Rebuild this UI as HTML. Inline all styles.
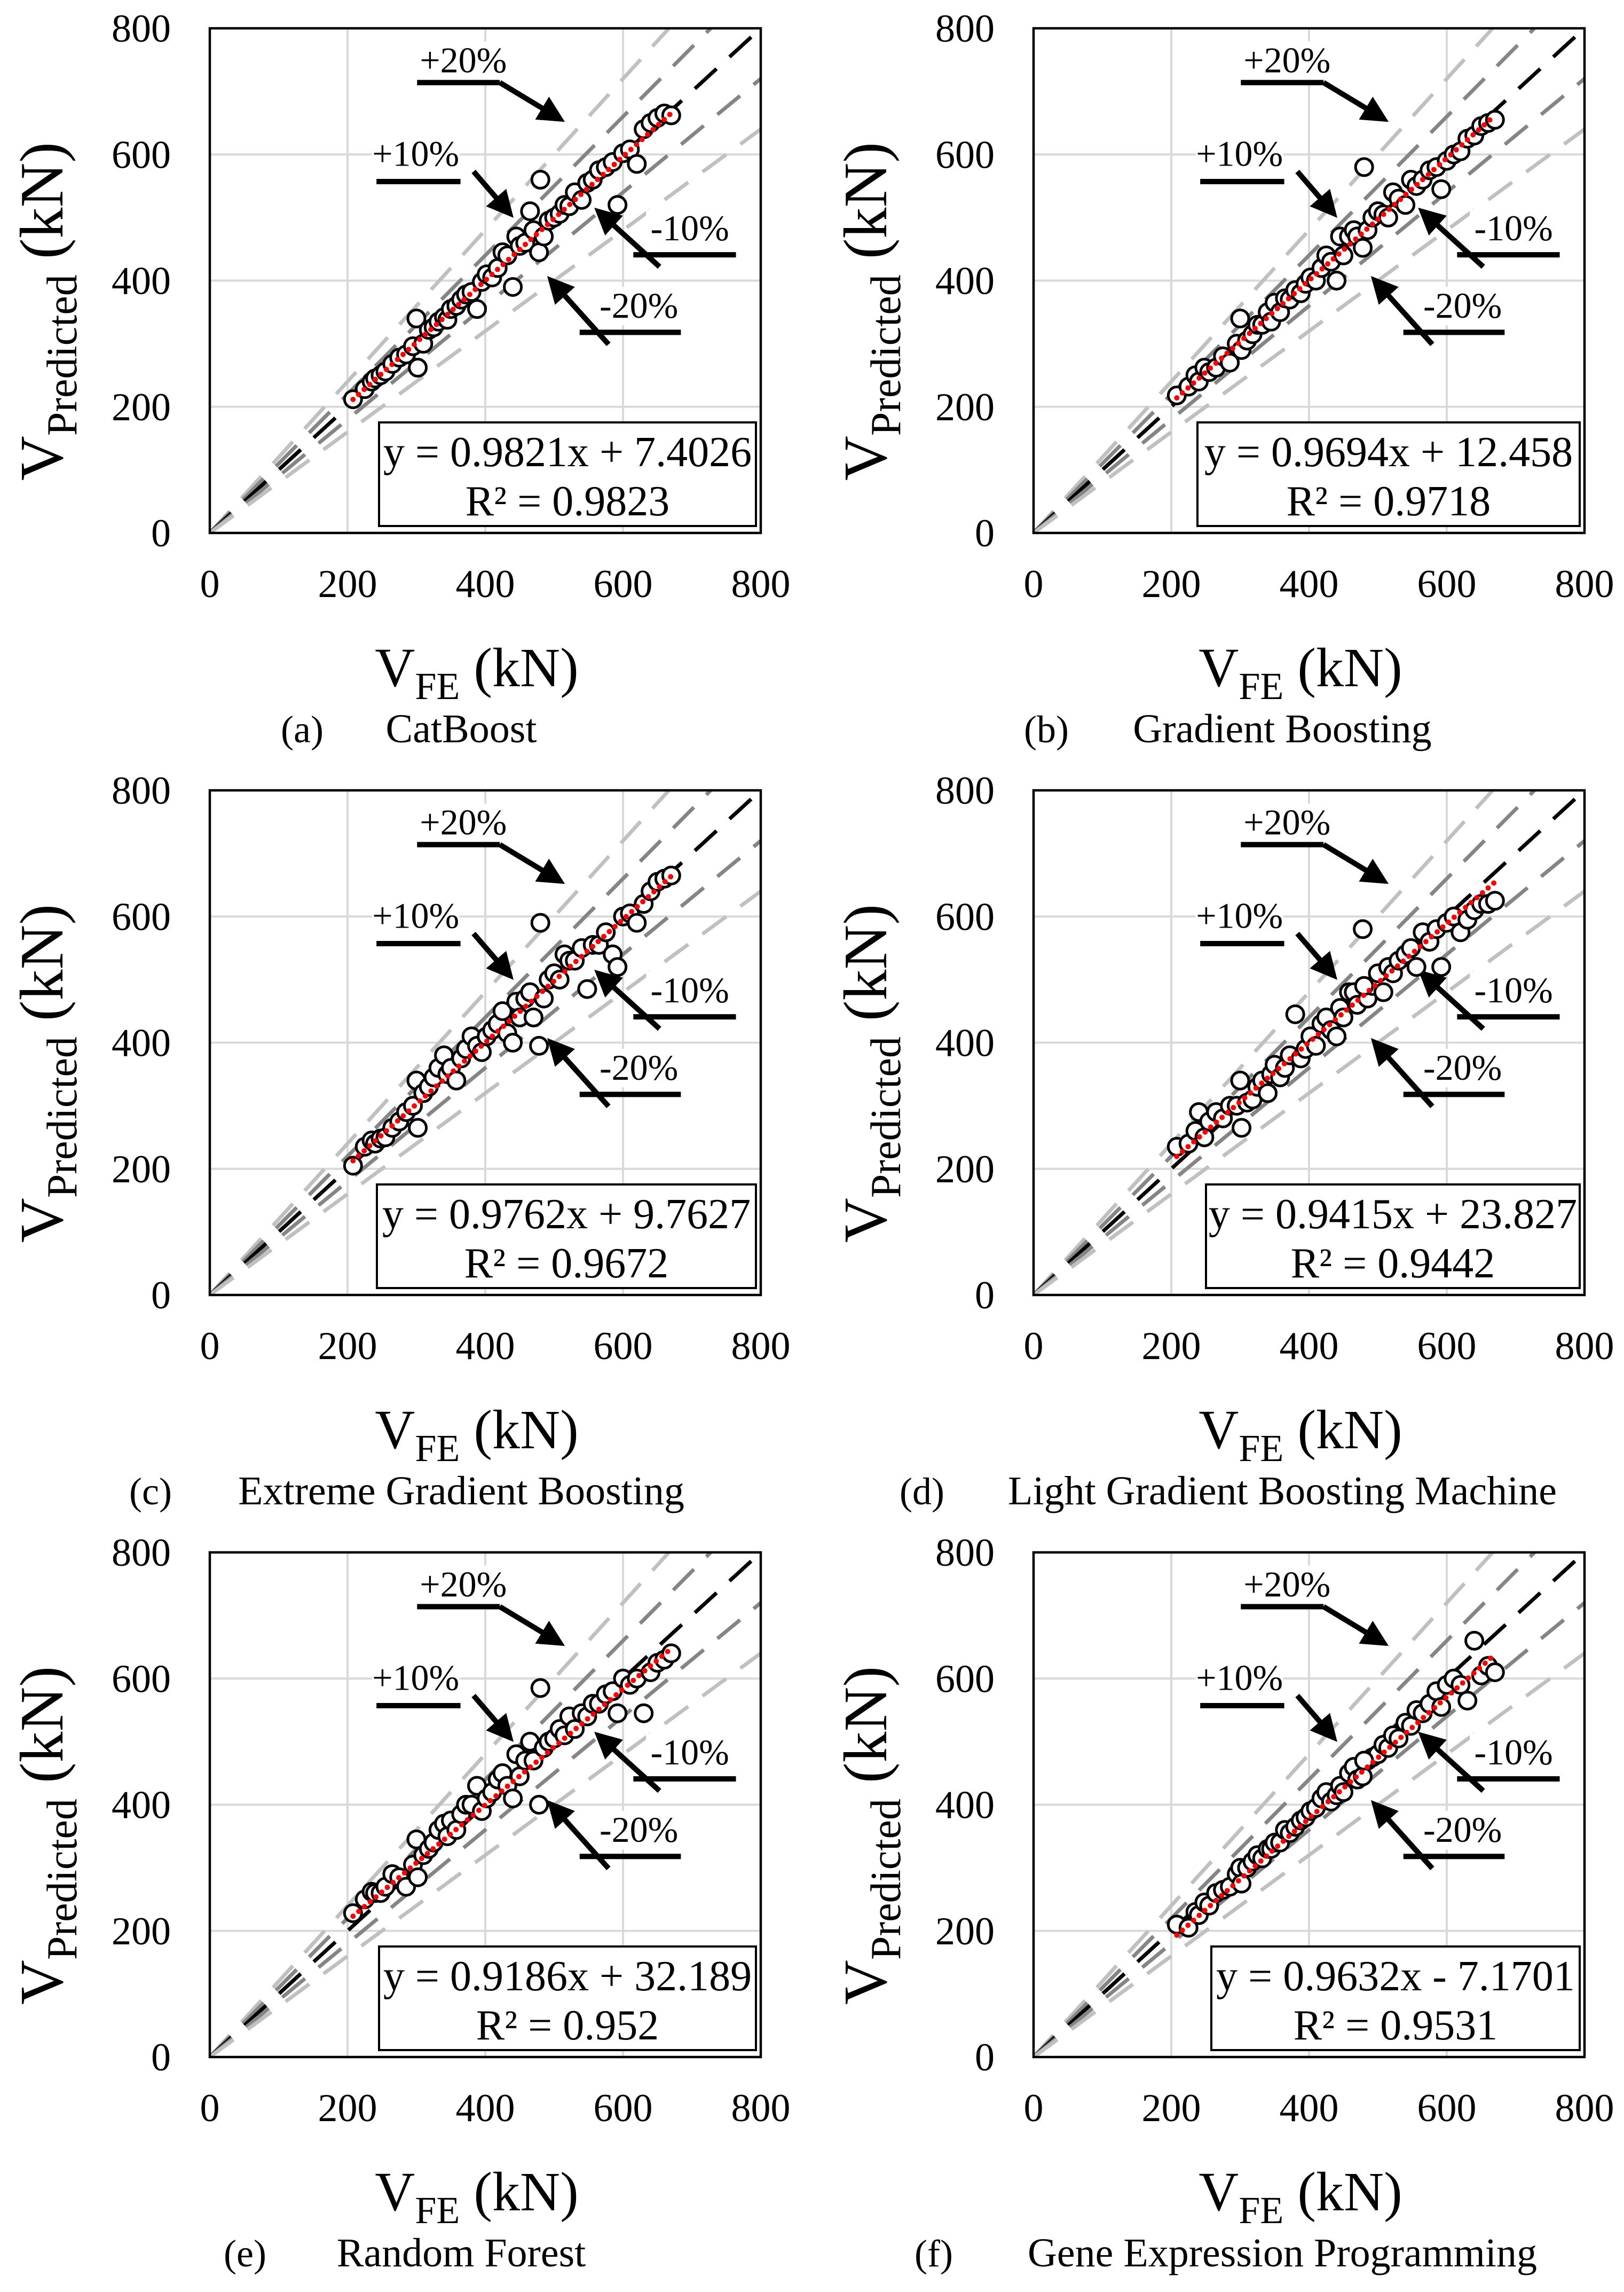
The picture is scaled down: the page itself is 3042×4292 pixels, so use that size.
<!DOCTYPE html>
<html><head><meta charset="utf-8"><style>
html,body{margin:0;padding:0;background:#fff}
svg{display:block;font-family:"Liberation Serif",serif}
</style></head><body>
<svg id="fig" xmlns="http://www.w3.org/2000/svg" width="3042" height="4292" viewBox="0 0 3042 4292">
<defs>
<marker id="ah" viewBox="0 0 10 10" refX="8" refY="5" markerWidth="5" markerHeight="5" orient="auto"><path d="M0,0 L10,5 L0,10 z" fill="#000"/></marker>
</defs>
<rect width="3042" height="4292" fill="#fff"/>
</svg>
<script>
const xFE = [208,225,235,240,248,255,265,275,285,295,
  300,302,310,318,325,332,340,345,350,358,
  365,372,380,388,395,402,410,418,425,432,
  440,445,450,458,465,470,478,485,492,500,
  508,515,522,530,540,548,556,565,575,585,
  592,600,610,620,630,640,650,660,670,480];
const yCatBoost = [212,228,240,245,250,256,268,278,283,296,
  340,262,300,322,326,335,342,338,355,360,
  370,378,382,355,398,410,405,420,445,440,
  390,470,455,460,510,480,445,470,495,500,
  506,520,518,540,528,555,560,575,580,588,
  520,602,608,585,640,650,658,665,662,560];
const yGB = [218,232,250,240,262,255,262,280,270,300,
  340,290,305,315,330,330,350,335,365,350,
  372,370,385,380,395,405,400,420,440,430,
  400,470,440,470,480,470,452,480,500,510,
  505,500,540,530,520,560,550,560,575,580,
  545,590,600,605,625,630,645,650,655,580];
const yXGB = [205,235,245,240,248,250,265,275,290,300,
  340,265,320,330,345,360,380,350,360,340,
  375,390,410,395,385,410,420,430,450,415,
  400,465,440,470,480,440,395,470,500,510,
  500,540,530,530,550,485,555,555,575,540,
  520,600,605,590,620,640,655,660,665,590];
const yLGBM = [235,240,260,290,250,275,290,280,300,300,
  340,265,305,310,330,340,320,350,365,345,
  360,380,445,375,390,410,395,430,440,420,
  410,455,440,480,480,460,580,470,490,510,
  480,520,510,530,540,550,520,575,560,580,
  520,590,600,575,595,610,620,620,625,490];
const yRF = [228,250,262,260,260,270,290,285,270,305,
  345,285,320,330,340,360,370,350,375,360,
  385,400,400,430,390,410,420,440,450,430,
  410,480,445,470,500,470,400,490,500,505,
  520,510,540,520,545,540,560,560,575,580,
  545,600,590,600,545,610,625,630,640,585];
const yGEP = [210,205,230,225,245,240,260,265,270,290,
  300,275,300,310,320,315,330,330,340,340,
  360,355,365,375,380,390,395,410,420,405,
  415,430,420,450,460,440,445,470,475,480,
  495,490,510,505,530,525,550,545,560,580,
  555,590,600,590,565,660,605,620,610,470];
const slopes = [0.9821,0.9694,0.9762,0.9415,0.9186,0.9632];
const intercepts = [7.4026,12.458,9.7627,23.827,32.189,-7.1701];
const eqLabels = ["y = 0.9821x + 7.4026","y = 0.9694x + 12.458","y = 0.9762x + 9.7627","y = 0.9415x + 23.827","y = 0.9186x + 32.189","y = 0.9632x - 7.1701"];
const r2Labels = ["R² = 0.9823","R² = 0.9718","R² = 0.9672","R² = 0.9442","R² = 0.952","R² = 0.9531"];
const panelLetters = ["(a)","(b)","(c)","(d)","(e)","(f)"];
const panelTitles = ["CatBoost","Gradient Boosting","Extreme Gradient Boosting","Light Gradient Boosting Machine","Random Forest","Gene Expression Programming"];
const tickValues = [0,200,400,600,800];
const tickLabels = ["0","200","400","600","800"];
const refFactors = [1.2,1.1,1.0,0.9,0.8];

const ySeries = [yCatBoost,yGB,yXGB,yLGBM,yRF,yGEP];
const NS = "http://www.w3.org/2000/svg";
const svg = document.getElementById('fig');
function mk(tag, attrs, parent){const e=document.createElementNS(NS,tag);for(const k in attrs)e.setAttribute(k,attrs[k]);(parent||svg).appendChild(e);return e;}

const colX = [393,1936], rowY = [53,1480,2907], W = 1032, H = 945;
const boxW = [706,716,710,700,706,690];
const letterX = [566,1960,282,1727,459,1749];
const titleX = [864,2402,864,2402,864,2402];
const refColors = {"1.2":"#c0c0c0","1.1":"#858585","1":"#000000","0.9":"#858585","0.8":"#c0c0c0"};

for(let p=0;p<6;p++){
  const x0 = colX[p%2], y0 = rowY[Math.floor(p/2)];
  const sx = v => x0 + v/800*W;
  const sy = v => y0 + H - v/800*H;
  const g = mk('g',{});
  
  
  const cp = mk('clipPath',{id:'clip'+p},svg.querySelector('defs'));
  mk('rect',{x:x0,y:y0,width:W,height:H},cp);
  for(let i=1;i<4;i++){
    const v=tickValues[i];
    const gl=mk('line',{x1:sx(v),x2:sx(v),y1:y0,y2:y0+H,stroke:'#d9d9d9','stroke-width':4},g);
    
    
    const gh=mk('line',{x1:x0,x2:x0+W,y1:sy(v),y2:sy(v),stroke:'#d9d9d9','stroke-width':4},g);
    
    
  }
  const rg = mk('g',{'clip-path':'url(#clip'+p+')'},g);
  refFactors.forEach(k=>{
    const l=mk('line',{x1:sx(0),y1:sy(0),x2:sx(800),y2:sy(800*k),stroke:refColors[String(k)],'stroke-width':7,'stroke-dasharray':'55 33'},rg);
    
    
  });
  const ann = [
    {t:"+20%",tx:368,ty:730,l:[301,421,714],a:[421,714,509,656]},
    {t:"+10%",tx:299,ty:582,l:[242,364,557],a:[383,573,436,506]},
    {t:"-10%",tx:697,ty:464,l:[615,764,441],a:[653,422,564,510]},
    {t:"-20%",tx:623,ty:341,l:[537,684,318],a:[579,299,495,401]}
  ];
  ann.forEach(a=>{
    const bg=mk('rect',{x:sx(a.tx)-82,y:sy(a.ty)-58,width:164,height:72,fill:'#fff'},g);
    
    
    const t=mk('text',{x:sx(a.tx),y:sy(a.ty),'font-size':68,'text-anchor':'middle',fill:'#000'},g);
    t.textContent=a.t;
    
    
    const hl=mk('line',{x1:sx(a.l[0]),x2:sx(a.l[1]),y1:sy(a.l[2]),y2:sy(a.l[2]),stroke:'#000','stroke-width':10},g);
    
    
    const ar=mk('line',{x1:sx(a.a[0]),y1:sy(a.a[1]),x2:sx(a.a[2]),y2:sy(a.a[3]),stroke:'#000','stroke-width':10,'marker-end':'url(#ah)'},g);
    
    
  });
  const ys = ySeries[p];
  for(let i=0;i<xFE.length;i++){
    const c=mk('circle',{cx:sx(xFE[i]),cy:sy(ys[i]),r:16,fill:'#fff',stroke:'#000','stroke-width':5},g);
    
    
  }
  const xmin=Math.min(...xFE), xmax=Math.max(...xFE);
  const tl=mk('line',{x1:sx(xmin),y1:sy(slopes[p]*xmin+intercepts[p]),x2:sx(xmax),y2:sy(slopes[p]*xmax+intercepts[p]),stroke:'#ff0000','stroke-width':10,'stroke-linecap':'round','stroke-dasharray':'0 14'},g);
  
  
  const bx = x0+W-9-boxW[p], by = y0+H-13-194;
  const br=mk('rect',{x:bx,y:by,width:boxW[p],height:194,fill:'#fff',stroke:'#000','stroke-width':4},g);
  
  
  const e1=mk('text',{x:bx+boxW[p]/2,y:by+82,'font-size':80,'text-anchor':'middle'},g);
  e1.textContent=eqLabels[p];
  
  
  const e2=mk('text',{x:bx+boxW[p]/2,y:by+174,'font-size':80,'text-anchor':'middle'},g);
  e2.textContent=r2Labels[p];
  
  
  const fr=mk('rect',{x:x0,y:y0,width:W,height:H,fill:'none',stroke:'#000','stroke-width':4.5},g);
  
  
  for(let i=0;i<tickValues.length;i++){
    const ty=mk('text',{x:x0-73,y:sy(tickValues[i])+25,'font-size':74,'text-anchor':'end'},g);
    ty.textContent=tickLabels[i];
    
    
    const tx=mk('text',{x:sx(tickValues[i]),y:y0+H+120,'font-size':74,'text-anchor':'middle'},g);
    tx.textContent=tickLabels[i];
    
    
  }
  const yt=mk('text',{x:0,y:0,'font-size':116,'text-anchor':'middle',transform:`translate(${x0-276},${y0+530}) rotate(-90)`},g);
  
  
  const s1=mk('tspan',{},yt); s1.textContent='V';
  const s2=mk('tspan',{'font-size':80,dy:26},yt); s2.textContent='Predicted';
  const s3=mk('tspan',{dy:-26},yt); s3.textContent=' (kN)';
  const xt=mk('text',{x:x0+500,y:y0+H+287,'font-size':104,'text-anchor':'middle'},g);
  
  
  const u1=mk('tspan',{},xt); u1.textContent='V';
  const u2=mk('tspan',{'font-size':72,dy:24},xt); u2.textContent='FE';
  const u3=mk('tspan',{dy:-24},xt); u3.textContent=' (kN)';
  const cl=mk('text',{x:letterX[p],y:y0+H+392,'font-size':72,'text-anchor':'middle'},g);
  cl.textContent=panelLetters[p];
  
  
  const ct=mk('text',{x:titleX[p],y:y0+H+392,'font-size':76,'text-anchor':'middle'},g);
  ct.textContent=panelTitles[p];
  
  
}
</script>
</body></html>
